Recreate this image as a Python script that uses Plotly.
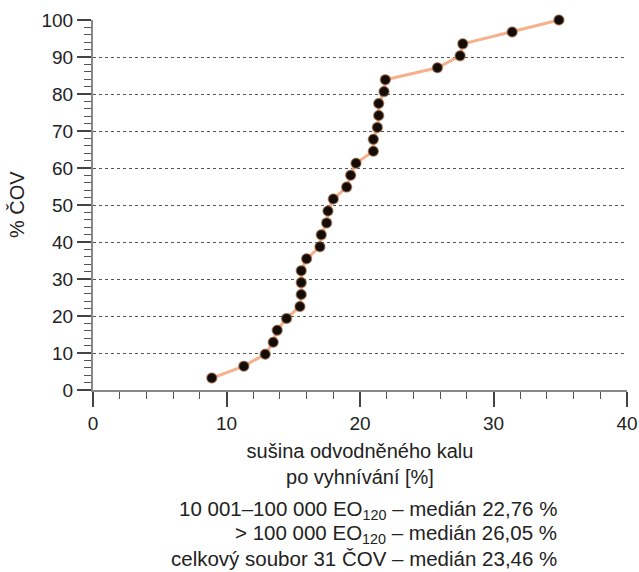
import plotly.graph_objects as go

# dry matter of dewatered sludge after digestion [%], sorted
susina = [8.9, 11.3, 12.9, 13.5, 13.8, 14.5, 15.5, 15.6, 15.6, 15.6, 16.0,
          17.0, 17.1, 17.5, 17.6, 18.0, 19.0, 19.3, 19.7, 21.0, 21.0, 21.3,
          21.4, 21.4, 21.8, 21.9, 25.8, 27.5, 27.7, 31.4, 34.9]
n = len(susina)
pct_cov = [round((i + 1) / n * 100, 2) for i in range(n)]

x_ticks = [0, 10, 20, 30, 40]
y_ticks = [0, 10, 20, 30, 40, 50, 60, 70, 80, 90, 100]

y_title = "% ČOV"
note_lines = [
    "10 001–100 000 EO<sub>120</sub> – medián 22,76 %",
    "> 100 000 EO<sub>120</sub> – medián 26,05 %",
    "celkový soubor 31 ČOV – medián 23,46 %",
]

FONT = "Liberation Sans, Arial, sans-serif"
L, R, T, B = 93, 12, 20, 182
W, H = 639, 572
PW, PH = W - L - R, H - T - B

fig = go.Figure()
fig.add_trace(go.Scatter(
    x=susina, y=pct_cov, mode="lines+markers",
    line=dict(color="rgba(244,168,126,0.9)", width=3),
    marker=dict(color="#140c06", size=10,
                line=dict(color="rgba(150,95,60,0.55)", width=1.5)),
    cliponaxis=False, showlegend=False,
))

fig.update_layout(
    width=W, height=H,
    margin=dict(l=L, r=R, t=T, b=B, autoexpand=False),
    paper_bgcolor="white", plot_bgcolor="white",
    font=dict(family=FONT, size=19, color="#222"),
    xaxis=dict(
        range=[0, 40], tickvals=x_ticks, showgrid=False, zeroline=False,
        showline=True, linecolor="#888", linewidth=2, automargin=False,
        ticks="outside", ticklen=15, tickcolor="#444", tickwidth=1.5,
        minor=dict(dtick=2, ticks="outside", ticklen=7, tickcolor="#555", tickwidth=1.2),
        title=dict(text="sušina odvodněného kalu<br>po vyhnívání [%]",
                   font=dict(size=20), standoff=11),
        tickfont=dict(size=19),
    ),
    yaxis=dict(
        range=[0, 100], tickvals=y_ticks, showgrid=True, gridcolor="#555",
        griddash="dot", gridwidth=1, zeroline=False,
        showline=True, linecolor="#888", linewidth=2, automargin=False,
        ticks="outside", ticklen=14, tickcolor="#444", tickwidth=1.5,
        minor=dict(dtick=2, ticks="outside", ticklen=7, tickcolor="#555",
                   tickwidth=1.2, showgrid=False),
        tickfont=dict(size=19),
    ),
)

fig.add_annotation(
    text=y_title, xref="paper", yref="paper", x=(17 - L) / PW, y=0.5,
    xanchor="center", yanchor="middle", textangle=-90, showarrow=False,
    font=dict(family=FONT, size=20, color="#222"),
)

note_y = [510, 534, 558]
for t, py in zip(note_lines, note_y):
    fig.add_annotation(
        text=t, xref="paper", yref="paper", x=(559 - L) / PW,
        y=(H - B - py) / PH, xanchor="right", yanchor="middle",
        showarrow=False, font=dict(family=FONT, size=20.5, color="#222"),
    )

fig.write_html("out.html")
